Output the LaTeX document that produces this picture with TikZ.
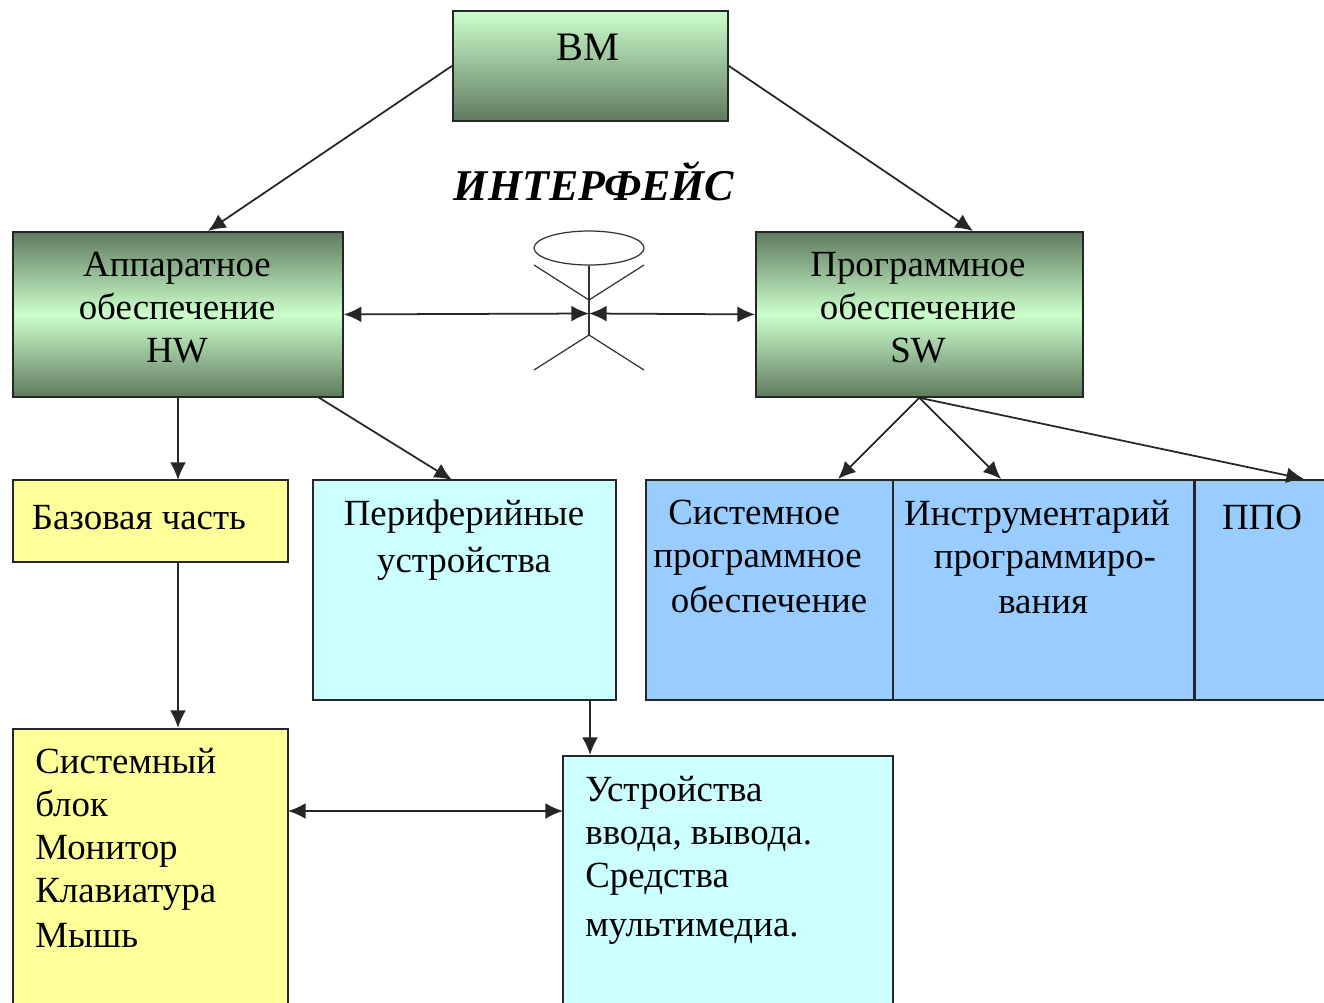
\documentclass[tikz,border=0pt]{standalone}
\usepackage{fontspec}
\setmainfont{Liberation Serif}
\usepackage{xcolor}
\usetikzlibrary{arrows.meta,shapes.geometric}
\definecolor{lightgreen}{HTML}{CCFFCC}
\definecolor{darkgreen}{HTML}{5F7A5F}
\definecolor{softyellow}{HTML}{FFFF99}
\definecolor{softcyan}{HTML}{CCFFFF}
\definecolor{softblue}{HTML}{99CCFF}
\tikzset{
    boxnode/.style={draw=black!85, line width=1pt, anchor=north west, inner sep=0pt},
    labelnode/.style={font=\fontsize{21}{24.5}\selectfont, inner sep=0pt},
    link/.style={draw=black!85, line width=1pt, -{Latex[length=10pt,width=9pt]}},
    twolink/.style={draw=black!85, line width=1pt, {Latex[length=10pt,width=9pt]}-{Latex[length=10pt,width=9pt]}},
    manline/.style={draw=black!80, line width=0.7pt}
}
\begin{document}
\begin{tikzpicture}[x=0.02cm,y=-0.02cm]
    \useasboundingbox (0,0) rectangle (1324,1002);
    \clip (0,0) rectangle (1324,1002);
    % Green boxes
    \node[boxnode, minimum width=275*0.02cm, minimum height=110*0.02cm, top color=lightgreen, bottom color=darkgreen] (vm) at (452,10) {};
    \node[boxnode, minimum width=330*0.02cm, minimum height=165*0.02cm, top color=darkgreen, bottom color=darkgreen, middle color=lightgreen] (hw) at (12,231) {};
    \node[boxnode, minimum width=327*0.02cm, minimum height=165*0.02cm, top color=darkgreen, bottom color=darkgreen, middle color=lightgreen] (sw) at (755,231) {};
    % Hardware branch
    \node[boxnode, minimum width=275*0.02cm, minimum height=82*0.02cm, fill=softyellow] (base) at (12,479) {};
    \node[boxnode, minimum width=303*0.02cm, minimum height=220*0.02cm, fill=softcyan] (periph) at (312,479) {};
    \node[boxnode, minimum width=275*0.02cm, minimum height=300*0.02cm, fill=softyellow] (unit) at (12,728) {};
    \node[boxnode, minimum width=330*0.02cm, minimum height=300*0.02cm, fill=softcyan] (inout) at (562,755) {};
    % Software branch
    \node[boxnode, minimum width=247*0.02cm, minimum height=220*0.02cm, fill=softblue] (sys) at (645,479) {};
    \node[boxnode, minimum width=301*0.02cm, minimum height=220*0.02cm, fill=softblue] (tool) at (892,479) {};
    \node[boxnode, minimum width=160*0.02cm, minimum height=220*0.02cm, fill=softblue, line width=1.4pt] (ppo) at (1194,479) {};
    % Labels
    \node[labelnode, font=\fontsize{23}{27}\selectfont] (vmtext) at (588,47) {ВМ};
    \node[labelnode, font=\fontsize{25}{27}\selectfont\bfseries\itshape] (title) at (594,181) {ИНТЕРФЕЙС};
    \node[labelnode, align=center] (hwtext) at (177,308) {Аппаратное\\обеспечение\\HW};
    \node[labelnode, align=center] (swtext) at (918,308) {Программное\\обеспечение\\SW};
    \node[labelnode] (basetext) at (139,518) {Базовая часть};
    \node[labelnode, align=center, font=\fontsize{21}{27}\selectfont] (periphtext) at (464,540) {Периферийные\\устройства};
    \node[labelnode, align=left, anchor=north west] (systext) at (653,500) {\hspace*{8.5pt}Системное\\программное\\[1pt]\hspace*{10pt}обеспечение};
    \node[labelnode, align=center] (tooltext) at (1037,557) {Инструментарий\\\hspace*{9pt}программиро-\\[1pt]\hspace*{7pt}вания};
    \node[labelnode] (ppotext) at (1262,517) {ППО};
    \node[labelnode, align=left, anchor=north west] (unittext) at (35,748) {Системный\\блок\\Монитор\\Клавиатура\\[1pt]Мышь};
    \node[labelnode, align=left, anchor=north west] (inouttext) at (585,776) {Устройства\\ввода, вывода.\\Средства\\[3pt]мультимедиа.};
    % Interface figure
    \node[draw=black!80, line width=0.7pt, ellipse, minimum width=110*0.02cm, minimum height=34*0.02cm, inner sep=0pt] (head) at (589,248) {};
    \coordinate (neck) at (589,300);
    \coordinate (hip) at (589,335);
    \coordinate (waist) at (589,313.5);
    \draw[manline] (head.south) -- (hip);
    \draw[manline] (534,265) -- (neck) -- (644,265);
    \draw[manline] (534,370) -- (hip) -- (644,370);
    % Connectors
    \coordinate (hwtop) at (208,231);
    \coordinate (swtop) at (973,231);
    \coordinate (hwdrop) at (178,397);
    \coordinate (hwside) at (318,397);
    \coordinate (basetop) at (178,480);
    \coordinate (basedrop) at (178,562);
    \coordinate (unittop) at (178,728);
    \coordinate (periphtop) at (452,480);
    \coordinate (periphdrop) at (590,700);
    \coordinate (inouttop) at (590,755);
    \coordinate (systop) at (838,479);
    \coordinate (tooltop) at (1001,479);
    \coordinate (ppotop) at (1304,479);
    \coordinate (unitside) at (288,811);
    \coordinate (inoutside) at (563,811);
    \draw[link] (vm.west) -- (hwtop);
    \draw[link] (vm.east) -- (swtop);
    \draw[twolink] (hw.east) -- (waist);
    \draw[twolink] (waist) -- (sw.west);
    \draw[link] (hwdrop) -- (basetop);
    \draw[link] (hwside) -- (periphtop);
    \draw[link] (basedrop) -- (unittop);
    \draw[link] (periphdrop) -- (inouttop);
    \draw[link] (sw.south) -- (systop);
    \draw[link] (sw.south) -- (tooltop);
    \draw[link] (sw.south) -- (ppotop);
    \draw[twolink] (unitside) -- (inoutside);
\end{tikzpicture}
\end{document}
